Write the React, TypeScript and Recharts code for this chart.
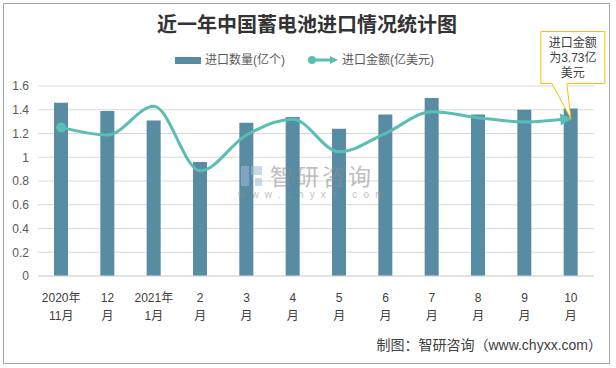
import { ComposedChart, Bar, Line, XAxis, YAxis, CartesianGrid } from "recharts";

const months = [
  "2020年\n11月",
  "12\n月",
  "2021年\n1月",
  "2\n月",
  "3\n月",
  "4\n月",
  "5\n月",
  "6\n月",
  "7\n月",
  "8\n月",
  "9\n月",
  "10\n月",
];
// 进口数量(亿个)
const quantity = [1.46, 1.39, 1.31, 0.96, 1.29, 1.34, 1.24, 1.36, 1.5, 1.36, 1.4, 1.41];
// 进口金额(亿美元), drawn on a hidden right axis
const amount = [3.52, 3.34, 4.02, 2.49, 3.34, 3.71, 2.94, 3.38, 3.89, 3.75, 3.65, 3.73];
const leftTicks = [0, 0.2, 0.4, 0.6, 0.8, 1, 1.2, 1.4, 1.6];
const calloutLines = ["进口金额", "为3.73亿", "美元"];

const BAR = "#588ca3";
const LINE = "#5bbeb2";
const FONT = "'Liberation Sans', 'Noto Sans CJK SC', sans-serif";

const data = months.map((m, i) => ({ month: m, quantity: quantity[i], amount: amount[i] }));

function MonthTick(props: any) {
  const { x, y, payload } = props;
  const lines = String(payload.value).split("\n");
  return (
    <g transform={`translate(${x},${y})`}>
      {lines.map((t, i) => (
        <text key={i} x={0} y={24 + i * 18} textAnchor="middle" fontSize={12} fill="#404040" fontFamily={FONT}>
          {t}
        </text>
      ))}
    </g>
  );
}

function AmountDot(props: any) {
  const { cx, cy, index } = props;
  if (index === 0) return <circle key="d0" cx={cx} cy={cy} r={5} fill={LINE} />;
  if (index === amount.length - 1) {
    const left = cx - 30;
    const right = cx + 34;
    const top = cy - 87;
    const bottom = cy - 35;
    return (
      <g key="dlast">
        <polygon points={`${cx + 1},${cy} ${cx - 11},${cy - 5} ${cx - 10},${cy + 7}`} fill={LINE} />
        <path
          d={`M${left},${top} H${right} V${bottom} H${cx - 4} L${cx},${cy} L${cx - 19},${bottom} H${left} Z`}
          fill="#fff"
          stroke="#ffc000"
          strokeWidth={1}
        />
        {calloutLines.map((t, i) => (
          <text key={i} x={cx + 2} y={cy - 72 + i * 15} textAnchor="middle" fontSize={12} fill="#404040" fontFamily={FONT}>
            {t}
          </text>
        ))}
      </g>
    );
  }
  return <g key={`d${index}`} />;
}

export default function App() {
  return (
    <div style={{ position: "absolute", left: 0, top: 0, width: 616, height: 368, background: "#fff", fontFamily: FONT }}>
      <div
        style={{
          position: "absolute",
          left: 3,
          top: 3,
          width: 607,
          height: 361,
          border: "1px solid #a6a6a6",
          boxSizing: "border-box",
        }}
      />
      <div style={{ position: "absolute", left: 0, top: 0 }}>
        <ComposedChart width={616} height={368} data={data} margin={{ top: 86, right: 22, left: 0, bottom: 52 }}>
          <CartesianGrid vertical={false} stroke="#d9d9d9" yAxisId="left" />
          <XAxis
            dataKey="month"
            height={40}
            tickLine={false}
            tickSize={0}
            axisLine={{ stroke: "#d9d9d9" }}
            tick={<MonthTick />}
            interval={0}
          />
          <YAxis
            yAxisId="left"
            width={38}
            domain={[0, 1.6]}
            ticks={leftTicks}
            tickLine={false}
            axisLine={false}
            tickSize={0}
            tickMargin={9}
            tick={{ fontSize: 12, fill: "#595959", fontFamily: FONT }}
            tickFormatter={(v: number) => String(v)}
          />
          <YAxis yAxisId="right" orientation="right" domain={[0, 4.5]} hide />
          <Bar yAxisId="left" dataKey="quantity" fill={BAR} barSize={14} isAnimationActive={false} />
          <Line
            yAxisId="right"
            type="monotone"
            dataKey="amount"
            stroke={LINE}
            strokeWidth={3}
            dot={AmountDot}
            activeDot={false}
            isAnimationActive={false}
          />
        </ComposedChart>
      </div>
      <svg width={616} height={368} style={{ position: "absolute", left: 0, top: 0, pointerEvents: "none" }}>
        <text x={307} y={32} textAnchor="middle" fontSize={20} fontWeight="bold" fill="#333" fontFamily="'Noto Sans CJK SC', serif">
          近一年中国蓄电池进口情况统计图
        </text>
        <rect x={175} y={57} width={26} height={7} fill={BAR} />
        <text x={205} y={64} fontSize={12} fill="#595959" fontFamily={FONT}>
          进口数量(亿个)
        </text>
        <line x1={312} y1={60} x2={332} y2={60} stroke={LINE} strokeWidth={3} />
        <circle cx={312} cy={60} r={4} fill={LINE} />
        <polygon points="338,60 330,56 330,64" fill={LINE} />
        <text x={342} y={64} fontSize={12} fill="#595959" fontFamily={FONT}>
          进口金额(亿美元)
        </text>
        <g opacity={0.55}>
          <rect x={241} y={166} width={8} height={20} fill="#9dbbd6" />
          <rect x={251} y={166} width={11} height={9} fill="#9dbbd6" />
          <rect x={255} y={178} width={7} height={8} fill="#9dbbd6" />
          <text x={270} y={185} fontSize={23} fill="#8c8c8c" letterSpacing={3} fontFamily={FONT}>
            智研咨询
          </text>
          <text x={238} y={198} fontSize={10} fill="#8c8c8c" letterSpacing={6.2} fontFamily={FONT}>
            www.chyxx.com
          </text>
        </g>
        <text x={602} y={350} textAnchor="end" fontSize={14} fill="#404040" fontFamily={FONT}>
          制图：智研咨询（www.chyxx.com）
        </text>
      </svg>
    </div>
  );
}
